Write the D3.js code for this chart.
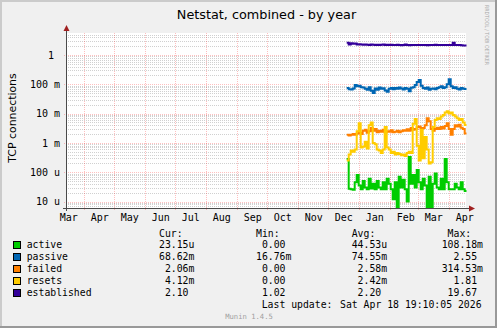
<!DOCTYPE html>
<html>
<head>
<meta charset="utf-8">
<script src="https://cdn.jsdelivr.net/npm/d3@7"></script>
<style>
  body { margin: 0; background: #f0f0f0; }
  svg { display: block; }
  text { font-family: "DejaVu Sans Mono", monospace; fill: #000; }
  .pre { white-space: pre; }
</style>
</head>
<body>
<div id="chart"></div>
<script>
// graph window: 400 days ending at last update
const graphEnd = new Date(Date.UTC(2026, 3, 18, 19, 10, 5));
const graphStart = new Date(graphEnd.getTime() - 400 * 864e5);
// data starts on Dec 20, one value every 2 days
const dataStart = new Date(Date.UTC(2025, 11, 20));
const stepDays = 2;

const seriesNames = ["active", "passive", "failed", "resets", "established"];
const seriesColors = ["#00cc00", "#0066b3", "#ff8000", "#ffcc00", "#330099"];

// active, in micro
const activeU = [280, 27, 26, 25, 45, 80, 35, 26, 50, 30, 26, 60, 28, 40, 26, 50, 30, 26, 45, 26,
  60, 40, 26, 12, 45, 0, 70, 30, 55, 26, 10, 330, 40, 80, 30, 120, 45, 26, 60, 35,
  0, 70, 0, 40, 90, 30, 26, 60, 26, 280, 45, 26, 26, 26, 40, 30, 26, 45, 26, 23];
// passive, in milli
const passiveM = [75, 68, 66, 72, 95, 85, 90, 80, 78, 70, 65, 80, 60, 50, 72, 65, 78, 70, 74, 62,
  56, 70, 75, 68, 75, 70, 78, 72, 66, 75, 70, 58, 76, 80, 95, 120, 140, 90, 75, 70,
  78, 65, 70, 72, 68, 75, 80, 85, 75, 80, 100, 150, 85, 75, 80, 70, 66, 75, 70, 69];
// failed, in milli
const failedM = [1.9, 1.8, 1.9, 2.0, 1.9, 2.1, 2.2, 2.0, 2.6, 2.8, 2.2, 2.5, 3.2, 2.6, 3.0, 2.3, 2.6, 2.4, 2.8, 2.3,
  2.5, 2.4, 2.7, 2.3, 2.4, 2.6, 2.3, 2.5, 2.7, 2.6, 2.9, 2.6, 3.2, 2.8, 3.0, 3.4, 3.6, 3.0, 3.2, 4.0,
  7.0, 5.5, 3.0, 2.6, 3.0, 3.3, 3.0, 3.5, 3.1, 3.8, 4.7, 3.0, 1.9, 3.0, 4.0, 3.6, 4.2, 3.3, 3.0, 2.1];
// resets, in milli
const resetsM = [0.25, 0.4, 0.55, 0.5, 0.6, 2.5, 4.7, 0.7, 0.75, 1.1, 0.65, 4.0, 5.0, 1.0, 0.9, 0.6, 0.55, 0.45, 0.6, 3.5,
  0.7, 0.6, 0.45, 0.5, 0.4, 0.45, 0.42, 0.38, 0.4, 0.36, 0.45, 0.5, 0.45, 4.5, 6.5, 0.8, 0.25, 2.8, 0.3, 1.6,
  0.6, 0.2, 0.22, 3.5, 6.0, 7.0, 6.5, 8.0, 9.0, 11, 12, 10, 11, 9, 8, 7, 6, 6.5, 5, 4.1];
const established = [2.6, 2.3, 2.5, 2.4, 2.45, 2.3, 2.35, 2.3, 2.25, 2.3, 2.25, 2.2, 2.3, 2.25, 2.2, 2.25, 2.2, 2.25, 2.3, 2.2,
  2.25, 2.2, 2.25, 2.2, 2.2, 2.25, 2.2, 2.15, 2.2, 2.3, 2.2, 2.15, 2.2, 2.2, 2.2, 2.2, 2.2, 2.2, 2.2, 2.2,
  2.15, 2.2, 2.2, 2.2, 2.25, 2.2, 2.2, 2.2, 2.2, 2.2, 2.2, 2.2, 2.2, 2.6, 2.2, 2.2, 2.2, 2.15, 2.1, 2.1];

const seriesValues = [
  activeU.map((v) => v * 1e-6),
  passiveM.map((v) => v * 1e-3),
  failedM.map((v) => v * 1e-3),
  resetsM.map((v) => v * 1e-3),
  established,
];

const yTickValues = [1e-5, 1e-4, 1e-3, 1e-2, 1e-1, 1];
const yTickNums = ["10", "100", "1", "10", "100", "1"];
const yTickUnits = ["u", "u", "m", "m", "m", ""];

const legendCur = ["23.15u", "68.62m", "2.06m", "4.12m", "2.10"];
const legendMin = ["0.00", "16.76m", "0.00", "0.00", "1.02"];
const legendAvg = ["44.53u", "74.55m", "2.58m", "2.42m", "2.20"];
const legendMax = ["108.18m", "2.55", "314.53m", "1.81", "19.67"];

const W = 497, H = 328;
const plot = { left: 66, right: 466, top: 33, bottom: 208 };

const svg = d3.select("#chart").append("svg").attr("width", W).attr("height", H);

// background + 3d shade
svg.append("rect").attr("width", W).attr("height", H).attr("fill", "#f0f0f0");
svg.append("path").attr("d", `M0,0H${W}V2H2V${H}H0Z`).attr("fill", "#cbcbcb");
svg.append("path").attr("d", `M${W},${H}H0V${H - 2}H${W - 2}V0H${W}Z`).attr("fill", "#999999");

svg.append("rect")
  .attr("x", plot.left).attr("y", plot.top)
  .attr("width", plot.right - plot.left).attr("height", plot.bottom - plot.top)
  .attr("fill", "#ffffff");

var x = d3.scaleUtc().domain([graphStart, graphEnd]).range([plot.left + 0.5, plot.right + 0.5]);
var y = d3.scaleLog().domain([1e-5, 1]).range([201.5, 55]);
const yPos = (v) => (v > 0 ? Math.max(plot.top, Math.min(plot.bottom, y(v))) : plot.bottom);

const g = svg.append("g");

// minor horizontal grid (2..9 of each decade)
var minor = [];
for (let e = -6; e <= 1; e++)
  for (let m = 2; m <= 9; m++) minor.push(m * Math.pow(10, e));
minor = minor.filter((v) => y(v) >= plot.top && y(v) <= plot.bottom);
g.selectAll(".hminor").data(minor).enter().append("line")
  .attr("x1", plot.left).attr("x2", plot.right)
  .attr("y1", (d) => Math.round(y(d)) + 0.5).attr("y2", (d) => Math.round(y(d)) + 0.5)
  .attr("stroke", "rgba(128,128,128,0.37)").attr("stroke-dasharray", "1,1");

// major grid: decades and month starts
g.selectAll(".hmajor").data(yTickValues).enter().append("line")
  .attr("x1", plot.left - 2).attr("x2", plot.right)
  .attr("y1", (d) => Math.round(y(d)) + 0.5).attr("y2", (d) => Math.round(y(d)) + 0.5)
  .attr("stroke", "rgba(255,0,0,0.25)").attr("stroke-dasharray", "1,1");

const monthStarts = d3.utcMonths(graphStart, graphEnd);
g.selectAll(".vmajor").data(monthStarts).enter().append("line")
  .attr("x1", (d) => Math.round(x(d)) + 0.5).attr("x2", (d) => Math.round(x(d)) + 0.5)
  .attr("y1", plot.top).attr("y2", plot.bottom + 2)
  .attr("stroke", "rgba(255,0,0,0.25)").attr("stroke-dasharray", "1,1");

// series lines, stepped, one value per 2 days
const dateAt = (i) => new Date(dataStart.getTime() + i * stepDays * 864e5);
var line = d3.line().x((d) => d[0]).y((d) => d[1]).curve(d3.curveStepAfter);
seriesValues.forEach((vals, k) => {
  var pts = vals.map((v, i) => [x(dateAt(i)), yPos(v)]);
  pts.push([x(graphEnd), yPos(vals[vals.length - 1])]);
  g.append("path")
    .attr("d", line(pts))
    .attr("fill", "none")
    .attr("stroke", seriesColors[k])
    .attr("stroke-width", 2);
});

// axes
const axisColor = "#4a4a4a", arrowColor = "#a02020";
svg.append("line").attr("x1", plot.left + 0.5).attr("x2", plot.left + 0.5)
  .attr("y1", plot.bottom + 3).attr("y2", 29).attr("stroke", axisColor);
svg.append("line").attr("x1", plot.left - 3).attr("x2", 470)
  .attr("y1", plot.bottom + 0.5).attr("y2", plot.bottom + 0.5).attr("stroke", axisColor);
svg.append("path").attr("d", `M${plot.left - 2.5},31L${plot.left + 0.5},25L${plot.left + 3.5},31Z`).attr("fill", arrowColor);
svg.append("path").attr("d", `M469,${plot.bottom - 2.5}L475,${plot.bottom + 0.5}L469,${plot.bottom + 3.5}Z`).attr("fill", arrowColor);

// y tick labels
svg.selectAll(".ylab").data(yTickValues).enter().append("text")
  .attr("x", (d, i) => (yTickUnits[i] ? 60 : 54))
  .attr("y", (d) => y(d) + 3.6)
  .attr("text-anchor", "end")
  .attr("font-size", "10px")
  .text((d, i) => yTickNums[i] + (yTickUnits[i] ? " " + yTickUnits[i] : ""));

// month labels, centred 15 days after month start
const monthLabelDates = d3.utcMonths(new Date(Date.UTC(2025, 2, 1)), new Date(Date.UTC(2026, 4, 1)));
svg.selectAll(".xlab").data(monthLabelDates).enter().append("text")
  .attr("x", (d) => x(new Date(d.getTime() + 15 * 864e5)) + 1)
  .attr("y", 221)
  .attr("text-anchor", "middle")
  .attr("font-size", "10px")
  .text((d) => d3.utcFormat("%b")(d));

// title and axis title
svg.append("text")
  .attr("x", 266.5).attr("y", 19)
  .attr("text-anchor", "middle")
  .style("font-family", "'DejaVu Sans', sans-serif")
  .attr("font-size", "12.8px")
  .text("Netstat, combined - by year");

svg.append("text")
  .attr("transform", "translate(15.5,118) rotate(-90)")
  .attr("text-anchor", "middle")
  .style("font-family", "'DejaVu Sans', sans-serif")
  .attr("font-size", "10.9px")
  .text("TCP connections");

svg.append("text")
  .attr("transform", "translate(485,5) rotate(90)")
  .style("font-family", "'DejaVu Sans', sans-serif")
  .attr("font-size", "5.5px")
  .attr("textLength", 60)
  .attr("lengthAdjust", "spacingAndGlyphs")
  .style("fill", "#a8a8a8")
  .text("RRDTOOL / TOBI OETIKER");

// legend
const fs = "9.8px";
const cols = [153.1, 250.1, 345.8, 441.7];
const headers = ["Cur:", "Min:", "Avg:", "Max:"];
const fmt = (s) => {
  var m = s.match(/^([\d.]+)([a-z]?)$/i);
  return m[1].padStart(6, " ") + (m[2] || " ");
};

headers.forEach((h, j) => {
  svg.append("text").attr("class", "pre")
    .attr("x", cols[j]).attr("y", 236.5).attr("font-size", fs)
    .text(" " + h);
});

var rows = svg.selectAll(".legend").data(seriesNames).enter().append("g")
  .attr("class", "legend")
  .attr("transform", (d, i) => `translate(0,${i * 12})`);
rows.append("rect")
  .attr("x", 13.5).attr("y", 241.5).attr("width", 7).attr("height", 7)
  .attr("fill", (d, i) => seriesColors[i])
  .attr("stroke", "#000").attr("stroke-width", 1);
rows.append("text")
  .attr("x", 26.7).attr("y", 248).attr("font-size", fs)
  .text((d) => d);
[legendCur, legendMin, legendAvg, legendMax].forEach((arr, j) => {
  rows.append("text").attr("class", "pre")
    .attr("x", cols[j]).attr("y", 248).attr("font-size", fs)
    .text((d, i) => fmt(arr[i]));
});

svg.append("text").attr("x", 261.7).attr("y", 308.4).attr("font-size", fs).text("Last update:");
svg.append("text").attr("x", 340).attr("y", 308.4).attr("font-size", fs).text("Sat Apr 18 19:10:05 2026");

svg.append("text")
  .attr("x", 249).attr("y", 319.3)
  .attr("text-anchor", "middle")
  .attr("font-size", "7.2px")
  .style("fill", "#a0a0a0")
  .text("Munin 1.4.5");
</script>
</body>
</html>
